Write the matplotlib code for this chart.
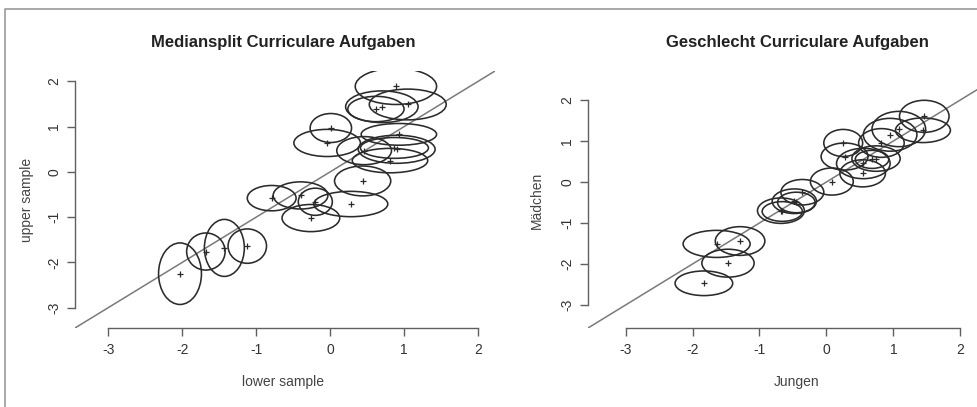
"""
Graphical model test plot: item difficulties of two subsamples with
confidence ellipses (Mediansplit and Geschlecht), R-style axes.
"""

import matplotlib
matplotlib.use("Agg")
import matplotlib.pyplot as plt
from matplotlib.patches import Ellipse
from matplotlib.lines import Line2D

plt.rcParams["font.family"] = ["Liberation Sans", "DejaVu Sans"]

# --- left panel: Mediansplit (lower sample vs upper sample) ---
MED_X = [-2.03, -1.68, -1.43, -1.12, -0.79, -0.40, -0.20, -0.26, 0.28, 0.44,
         0.01, -0.04, 0.46, 0.81, 0.87, 0.90, 0.93, 0.62, 0.70, 1.05, 0.89]
MED_Y = [-2.25, -1.76, -1.68, -1.64, -0.58, -0.52, -0.66, -1.02, -0.71, -0.20,
         0.97, 0.64, 0.47, 0.25, 0.53, 0.50, 0.83, 1.39, 1.44, 1.49, 1.89]
MED_HW = [0.29, 0.26, 0.27, 0.26, 0.33, 0.37, 0.23, 0.39, 0.50, 0.38,
          0.28, 0.45, 0.37, 0.51, 0.46, 0.52, 0.51, 0.38, 0.49, 0.52, 0.55]
MED_HH = [0.68, 0.41, 0.63, 0.38, 0.28, 0.30, 0.30, 0.30, 0.28, 0.33,
          0.32, 0.30, 0.31, 0.27, 0.23, 0.31, 0.24, 0.28, 0.35, 0.34, 0.40]
MED_LIM = (-3.45, 2.23)

# --- right panel: Geschlecht (Jungen vs Mädchen) ---
GES_X = [-1.83, -1.47, -1.64, -1.29, -0.68, -0.66, -0.48, -0.36, -0.45, 0.08,
         0.25, 0.27, 0.54, 0.55, 0.68, 0.74, 0.82, 0.95, 1.08, 1.46, 1.44]
GES_Y = [-2.47, -1.98, -1.51, -1.44, -0.70, -0.72, -0.47, -0.25, -0.50, 0.01,
         0.95, 0.62, 0.21, 0.45, 0.55, 0.57, 0.95, 1.15, 1.29, 1.60, 1.26]
GES_HW = [0.43, 0.39, 0.50, 0.37, 0.35, 0.30, 0.33, 0.32, 0.28, 0.32,
          0.29, 0.35, 0.34, 0.40, 0.25, 0.36, 0.34, 0.40, 0.40, 0.37, 0.41]
GES_HH = [0.30, 0.34, 0.33, 0.35, 0.31, 0.24, 0.30, 0.31, 0.25, 0.33,
          0.33, 0.33, 0.33, 0.37, 0.22, 0.31, 0.35, 0.40, 0.43, 0.39, 0.30]
GES_LIM = (-3.56, 2.68)

TICKS = [-3, -2, -1, 0, 1, 2]

W, H = 977, 407
AXIS_GREY = "#606060"
INK = "#2b2b2b"


def draw_panel(ax, xs, ys, hws, hhs, lim):
    ax.set_xlim(lim)
    ax.set_ylim(lim)
    ax.axline((0, 0), slope=1, color="#7a7a7a", lw=1.1, zorder=1)
    for cx, cy, hw, hh in zip(xs, ys, hws, hhs):
        ax.add_patch(Ellipse((cx, cy), 2 * hw, 2 * hh, fill=False,
                             edgecolor=INK, lw=1.15, zorder=2))
    ax.plot(xs, ys, "+", color=INK, ms=5, mew=0.9, zorder=3)

    # R-like axes: open box, axis lines only over the tick range
    for side in ("top", "right"):
        ax.spines[side].set_visible(False)
    for side in ("left", "bottom"):
        ax.spines[side].set_bounds(TICKS[0], TICKS[-1])
        ax.spines[side].set_color(AXIS_GREY)
        ax.spines[side].set_linewidth(1.0)
    ax.set_xticks(TICKS)
    ax.set_yticks(TICKS)
    ax.set_xticklabels([str(t) for t in TICKS])
    ax.set_yticklabels([str(t) for t in TICKS], rotation=90, va="center")
    ax.tick_params(direction="out", length=5.8, width=1.0, color=AXIS_GREY,
                   labelsize=10, labelcolor="#333333")
    ax.tick_params(axis="x", pad=5)
    ax.tick_params(axis="y", pad=4)
    ax.patch.set_visible(False)


def main() -> None:
    fig = plt.figure(figsize=(W / 100, H / 100), dpi=100)

    # plot regions in pixels: left, top, right, bottom
    ax1 = fig.add_axes([75 / W, 1 - 328 / H, 420 / W, 257 / H])
    ax2 = fig.add_axes([588 / W, 1 - 328 / H, 418 / W, 256 / H])

    draw_panel(ax1, MED_X, MED_Y, MED_HW, MED_HH, MED_LIM)
    draw_panel(ax2, GES_X, GES_Y, GES_HW, GES_HH, GES_LIM)

    fig.text(283 / W, 1 - 42 / H, "Mediansplit Curriculare Aufgaben",
             ha="center", va="center", fontsize=12, fontweight="bold", color="#222222")
    fig.text(797 / W, 1 - 42 / H, "Geschlecht Curriculare Aufgaben",
             ha="center", va="center", fontsize=12, fontweight="bold", color="#222222")

    fig.text(283 / W, 1 - 382 / H, "lower sample", ha="center", va="center",
             fontsize=10, color="#444444")
    fig.text(27 / W, 1 - 200 / H, "upper sample", ha="center", va="center",
             rotation=90, fontsize=10, color="#444444")
    fig.text(797 / W, 1 - 382 / H, "Jungen", ha="center", va="center",
             fontsize=10, color="#444444")
    fig.text(537 / W, 1 - 200 / H, "Mädchen", ha="center", va="center",
             rotation=90, fontsize=10, color="#444444")

    # outer grey frame (left and top edges visible)
    fig.add_artist(Line2D([5 / W, 5 / W, 1], [0, 1 - 9 / H, 1 - 9 / H],
                          transform=fig.transFigure, color="#999999", lw=1.2))

    fig.savefig("out.png", dpi=100)


if __name__ == "__main__":
    main()
